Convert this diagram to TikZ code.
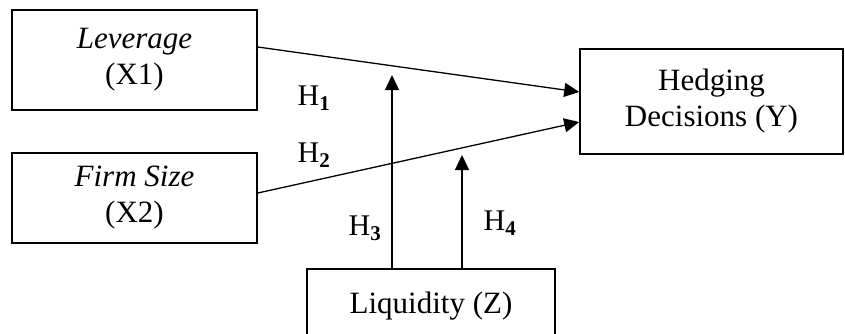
\documentclass[tikz,border=0pt]{standalone}
\usepackage{fontspec}
\setmainfont{Liberation Serif}
\usetikzlibrary{arrows.meta}
\begin{document}
\begin{tikzpicture}[x=1pt,y=-1pt,
  box/.style={draw,line width=1.6pt,rectangle,align=center,inner sep=0pt,font=\fontsize{31}{36}\selectfont},
  lab/.style={inner sep=0pt,font=\fontsize{30}{36}\selectfont},
  arr/.style={line width=1.3pt,-{Triangle[length=15pt,width=14pt]}}]
\useasboundingbox (0,0) rectangle (845,333);
\begin{scope}
\clip (0,0) rectangle (845,333);
\node[box,minimum width=245pt,minimum height=100pt] (lev) at (134.5,60) {\textit{Leverage}\\(X1)};
\node[box,minimum width=245pt,minimum height=90pt] (firm) at (134.5,198) {\textit{Firm Size}\\(X2)};
\node[box,minimum width=263pt,minimum height=105pt] (hed) at (711.5,101.5) {Hedging\\Decisions (Y)};
\node[box,minimum width=248pt,minimum height=74pt] (liq) at (431,306) {\raisebox{6pt}{Liquidity (Z)}};
\end{scope}
\coordinate (t3) at (392,75);
\coordinate (t4) at (462,155);
\draw[arr] ([yshift=13pt]lev.east) -- ([yshift=9.5pt]hed.west);
\draw[arr] ([yshift=5pt]firm.east) -- ([yshift=-20.5pt]hed.west);
\draw[arr] ([xshift=-39pt]liq.north) -- (t3);
\draw[arr] ([xshift=31pt]liq.north) -- (t4);
\node[lab] (h1) at (314,98) {H\textsubscript{\textbf{1}}};
\node[lab] (h2) at (314,155) {H\textsubscript{\textbf{2}}};
\node[lab] (h3) at (365,228) {H\textsubscript{\textbf{3}}};
\node[lab] (h4) at (500,223) {H\textsubscript{\textbf{4}}};
\end{tikzpicture}
\end{document}
